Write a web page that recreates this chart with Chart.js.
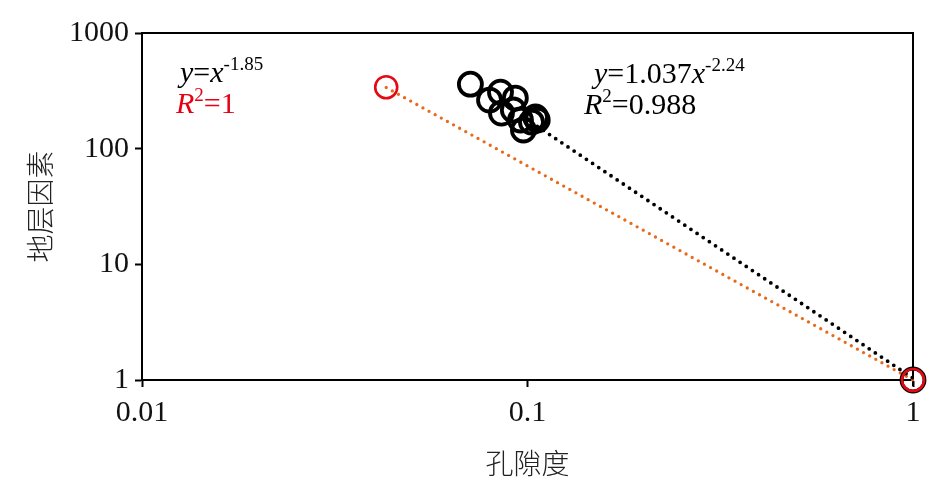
<!DOCTYPE html>
<html><head><meta charset="utf-8">
<script src="https://cdn.jsdelivr.net/npm/chart.js@4/dist/chart.umd.min.js"></script>
<style>html,body{margin:0;padding:0;background:#fff}#wrap{width:939px;height:496px}</style>
</head><body><div id="wrap"><canvas id="c" width="939" height="496"></canvas></div>
<script>
// Data
const porosity = [0.0711, 0.0797, 0.0851, 0.0856, 0.0930, 0.0919, 0.0959, 0.1049, 0.0976, 0.1024, 0.1060, 1];
const formationFactor = [361, 263, 308, 203, 274, 216, 177, 188, 145, 170, 177, 1];
const redPorosity = [0.043, 1];
const redFactor = [340, 1];
const blackFitX = [0.106, 1];
const blackFitY = [156, 1.037];
const orangeFitX = [0.043, 1];
const orangeFitY = [338, 1];
const xTicks = [0.01, 0.1, 1];
const yTicks = [1, 10, 100, 1000];
const xTitle = '孔隙度';
const yTitle = '地层因素';

const pts = (xs, ys) => xs.map((x, i) => ({x: x, y: ys[i]}));
const SERIF = '"Liberation Serif","Times New Roman",serif';
const CJK = '"Noto Sans CJK SC","Noto Sans CJK JP",sans-serif';

const framePlugin = {
  id: 'frame',
  beforeDatasetsDraw(chart) {
    const a = chart.chartArea, c = chart.ctx;
    c.save();
    c.strokeStyle = '#000'; c.lineWidth = 2;
    c.beginPath();
    c.moveTo(a.left, a.top); c.lineTo(a.right, a.top); c.lineTo(a.right, a.bottom + 6);
    c.stroke();
    c.restore();
  }
};

function drawRich(c, x, y, parts) {
  let cx = x;
  parts.forEach(p => {
    const size = p.sup ? 19 : 30;
    c.font = (p.it ? 'italic ' : '') + size + 'px ' + SERIF;
    c.fillStyle = p.color || '#000';
    c.fillText(p.t, cx, y - (p.sup ? 12 : 0));
    cx += c.measureText(p.t).width + (p.gap || 0);
  });
}

const textPlugin = {
  id: 'eqs',
  afterDraw(chart) {
    const c = chart.ctx;
    c.save();
    c.textBaseline = 'alphabetic';
    c.textAlign = 'left';
    drawRich(c, 180, 82, [{t:'y', it:true}, {t:'='}, {t:'x', it:true}, {t:'-1.85', sup:true}]);
    drawRich(c, 176, 113, [{t:'R', it:true, color:'#e60012'}, {t:'2', sup:true, color:'#e60012'}, {t:'=1', color:'#e60012'}]);
    drawRich(c, 594, 83, [{t:'y', it:true}, {t:'=1.037'}, {t:'x', it:true}, {t:'-2.24', sup:true}]);
    drawRich(c, 584, 114, [{t:'R', it:true}, {t:'2', sup:true}, {t:'=0.988'}]);
    c.restore();
  }
};

const orange = 'rgb(232,105,25)';
const red = 'rgb(228,10,20)';

new Chart(document.getElementById('c'), {
  type: 'scatter',
  data: {
    datasets: [
      { data: pts(redPorosity, redFactor), order: 0, clip: false,
        pointStyle: 'circle', pointRadius: 11, pointBorderWidth: 2.6,
        pointBorderColor: red, pointBackgroundColor: 'rgba(0,0,0,0)', showLine: false },
      { data: pts(porosity, formationFactor), order: 1, clip: false,
        pointStyle: 'circle', pointRadius: 11.5, pointBorderWidth: 3.8,
        pointBorderColor: '#000', pointBackgroundColor: 'rgba(0,0,0,0)', showLine: false },
      { data: pts(blackFitX, blackFitY), order: 2, showLine: true, clip: false,
        borderColor: '#000', borderWidth: 3.8, borderDash: [0, 7.4], borderCapStyle: 'round',
        pointRadius: 0 },
      { data: pts(orangeFitX, orangeFitY), order: 3, showLine: true, clip: false,
        borderColor: orange, borderWidth: 3.3, borderDash: [0, 7], borderCapStyle: 'round',
        pointRadius: 0 }
    ]
  },
  options: {
    responsive: false, animation: false,
    layout: { padding: { top: 33, right: 26, left: 0, bottom: 0 } },
    plugins: { legend: { display: false }, tooltip: { enabled: false } },
    scales: {
      x: {
        type: 'logarithmic', min: 0.01, max: 1,
        afterBuildTicks: s => { s.ticks = xTicks.map(v => ({ value: v })); },
        afterFit: s => { s.height = 116; },
        ticks: { callback: v => String(v), font: { family: SERIF, size: 30 }, color: '#111', padding: 8, maxRotation: 0, autoSkip: false },
        grid: { drawOnChartArea: false, tickLength: 7, tickColor: '#000', tickWidth: 2 },
        border: { color: '#000', width: 2 },
        title: { display: true, text: xTitle, font: { family: CJK, size: 28, weight: '300' }, color: '#222', padding: { top: 0, bottom: 16 } }
      },
      y: {
        type: 'logarithmic', min: 1, max: 1000,
        afterBuildTicks: s => { s.ticks = yTicks.map(v => ({ value: v })); },
        afterFit: s => { s.width = 142; },
        ticks: { callback: v => String(v), font: { family: SERIF, size: 30 }, color: '#111', padding: 6, autoSkip: false },
        grid: { drawOnChartArea: false, tickLength: 7, tickColor: '#000', tickWidth: 2 },
        border: { color: '#000', width: 2 },
        title: { display: true, text: yTitle, font: { family: CJK, size: 28, weight: '300' }, color: '#222', padding: { top: 24, bottom: 0 } }
      }
    }
  },
  plugins: [framePlugin, textPlugin]
});
</script>
</body></html>
